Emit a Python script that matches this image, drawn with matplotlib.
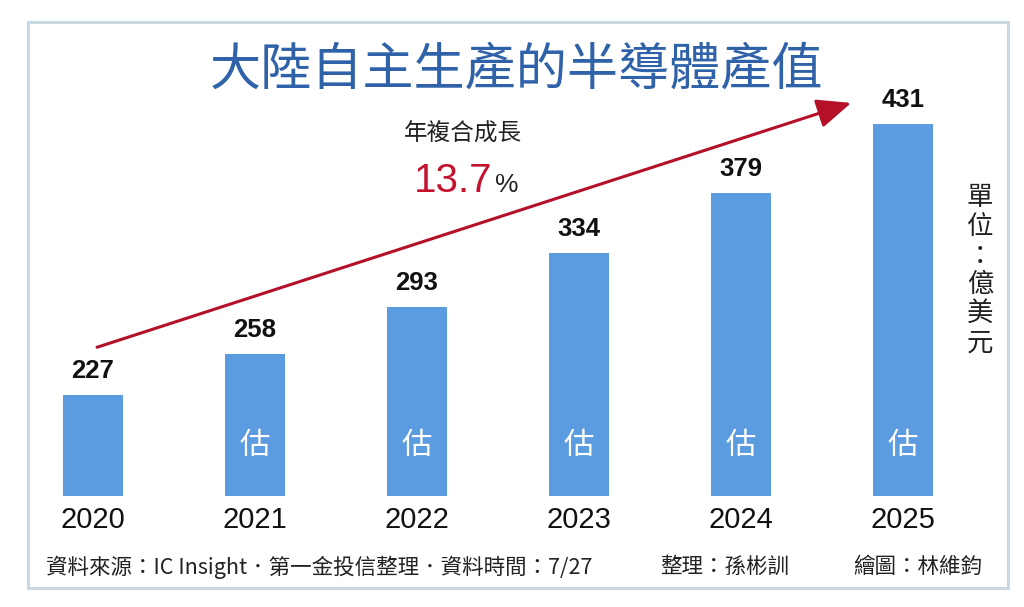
import matplotlib
matplotlib.use("Agg")
import matplotlib.pyplot as plt
from matplotlib.patches import Rectangle

# data
years = ["2020", "2021", "2022", "2023", "2024", "2025"]
values = [227, 258, 293, 334, 379, 431]
estimated = [False, True, True, True, True, True]

title = "大陸自主生產的半導體產值"
cagr_label = "年複合成長"
cagr_value = "13.7"
unit_label = "單位：億美元"
source_text = "資料來源：IC Insight．第一金投信整理．資料時間：7/27"
editor_text = "整理：孫彬訓"
artist_text = "繪圖：林維鈞"

CJK = ["Noto Sans CJK TC", "DejaVu Sans"]
NUM = "Liberation Sans"
bar_color = "#5b9bdf"

W, H = 1024, 607
fig = plt.figure(figsize=(W / 100, H / 100), dpi=100)
fig.patch.set_facecolor("white")

# outer frame
fig.patches.append(Rectangle((28 / W, 1 - 588 / H), 980 / W, 566 / H,
                             transform=fig.transFigure, fill=False,
                             edgecolor="#c9d9e4", linewidth=2.2))

# axes placed so bars land where they are in the reference
ax = fig.add_axes([12 / W, 1 - 496 / H, 972 / W, 474 / H])
ax.set_xlim(-0.5, len(years) - 0.5)
ax.set_ylim(151, 151 + 474 / 1.328)
ax.axis("off")

x = list(range(len(years)))
ax.bar(x, values, width=0.37, bottom=0, color=bar_color)

for i, (yr, v, est) in enumerate(zip(years, values, estimated)):
    ax.text(i, v + 9, str(v), ha="center", va="bottom", fontsize=18.5,
            fontweight="bold", family=NUM, color="#111111")
    ax.text(i, 151 - 18, yr, ha="center", va="center", fontsize=21,
            family=NUM, color="#111111", clip_on=False)
    if est:
        ax.text(i, 151 + 38, "估", ha="center", va="center", fontsize=22,
                family=CJK, color="white")

# growth arrow
ax.annotate("", xy=(4.68, values[-1] + 16), xytext=(0.025, values[0] + 36),
            arrowprops=dict(arrowstyle="-|>,head_length=2.1,head_width=0.9",
                            color="#b5102a", lw=2.2, shrinkA=0, shrinkB=0))

fig.text(517 / W, 1 - 70 / H, title, ha="center", va="center", fontsize=36.8,
         family=CJK, color="#2f62a8")
fig.text(463 / W, 1 - 134 / H, cagr_label, ha="center", va="center",
         fontsize=17, family=CJK, color="#222222")
fig.text(492 / W, 1 - 192 / H, cagr_value, ha="right", va="baseline",
         fontsize=29, family=NUM, color="#c4122f")
fig.text(495 / W, 1 - 192 / H, "%", ha="left", va="baseline",
         fontsize=19, family=NUM, color="#222222")

fig.text(980 / W, 1 - 270 / H, "\n".join(unit_label), ha="center",
         va="center", fontsize=19, family=CJK, color="#222222",
         linespacing=1.1)

fig.text(46 / W, 1 - 567 / H, source_text, ha="left", va="center",
         fontsize=15.5, family=CJK, color="#222222")
fig.text(660 / W, 1 - 567 / H, editor_text, ha="left", va="center",
         fontsize=15.5, family=CJK, color="#222222")
fig.text(853 / W, 1 - 567 / H, artist_text, ha="left", va="center",
         fontsize=15.5, family=CJK, color="#222222")

fig.savefig("out.png", dpi=100, facecolor=fig.get_facecolor())
